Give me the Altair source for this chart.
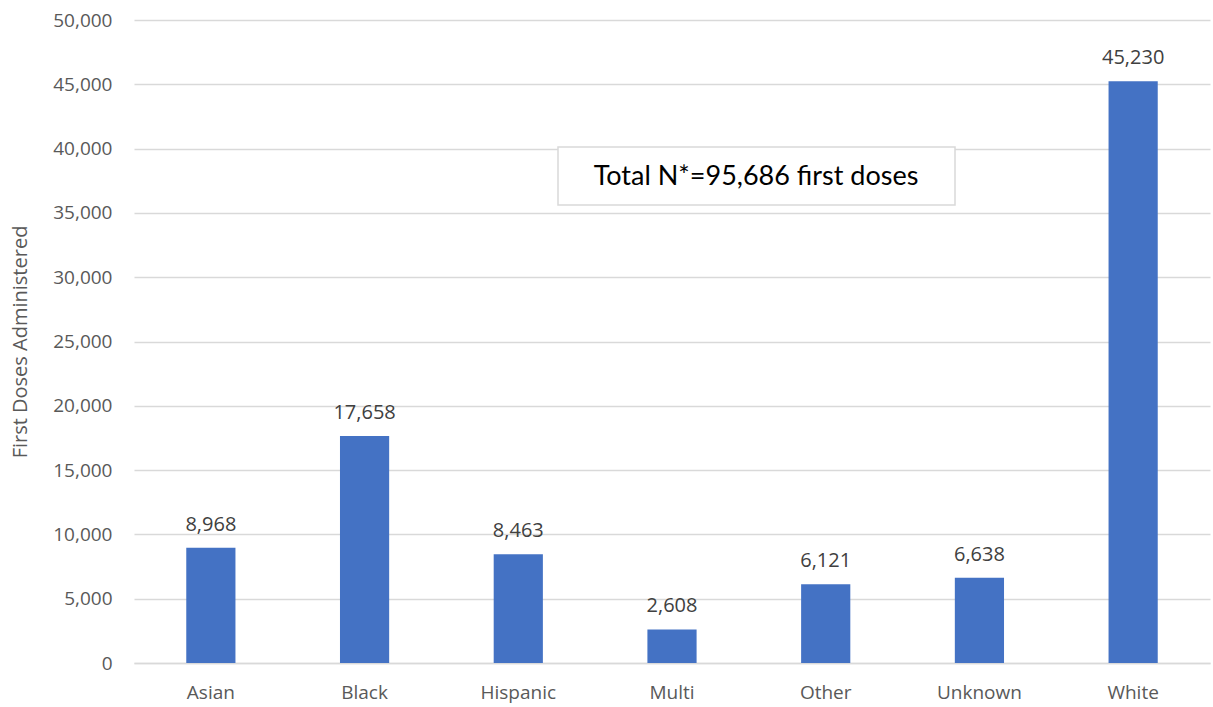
import altair as alt
import pandas as pd

categories = ["Asian", "Black", "Hispanic", "Multi", "Other", "Unknown", "White"]
doses = [8968, 17658, 8463, 2608, 6121, 6638, 45230]

df = pd.DataFrame({"group": categories, "doses": doses})
df["label"] = [f"{v:,}" for v in doses]

x = alt.X("group:N", sort=categories, title=None,
          scale=alt.Scale(paddingInner=0.68, paddingOuter=0.34),
          axis=alt.Axis(labelAngle=0, labelFont="Open Sans", labelFontSize=19,
                        labelColor="#595959", ticks=False, domainColor="#d9d9d9",
                        domainWidth=1.5, labelPadding=20))
y = alt.Y("doses:Q", title="First Doses Administered",
          scale=alt.Scale(domain=[0, 50000]),
          axis=alt.Axis(values=list(range(0, 50001, 5000)), format=",d",
                        labelFont="Open Sans", labelFontSize=19, labelColor="#595959",
                        titleFont="Open Sans", titleFontSize=20, titleColor="#595959",
                        titleFontWeight="normal", ticks=False, domain=False,
                        gridColor="#d9d9d9", gridWidth=1.5, labelPadding=22, titlePadding=22))

bars = alt.Chart(df).mark_bar(color="#4472C4").encode(x=x, y=y)
labels = alt.Chart(df).mark_text(dy=-23, font="Open Sans", fontSize=20, color="#404040").encode(
    x=alt.X("group:N", sort=categories), y="doses:Q", text="label:N")

box = alt.Chart(pd.DataFrame({"t": ["Total N*=95,686 first doses"]})).mark_rect(
    fill="white", stroke="#d9d9d9", strokeWidth=1.5).encode(
    x=alt.value(424), x2=alt.value(821), y=alt.value(127), y2=alt.value(185))
box_text = alt.Chart(pd.DataFrame({"t": ["Total N*=95,686 first doses"]})).mark_text(
    font="Lato", fontSize=27, color="#000000").encode(
    x=alt.value(622), y=alt.value(157), text="t:N")

chart = alt.layer(bars, labels, box, box_text).properties(
    width=1076, height=643,
    autosize=alt.AutoSizeParams(type="none"),
    padding={"left": 134, "top": 20, "right": 3, "bottom": 44},
).configure(background="white").configure_view(stroke=None)

chart.save("out.html", embed_options={"renderer": "svg", "actions": False})
